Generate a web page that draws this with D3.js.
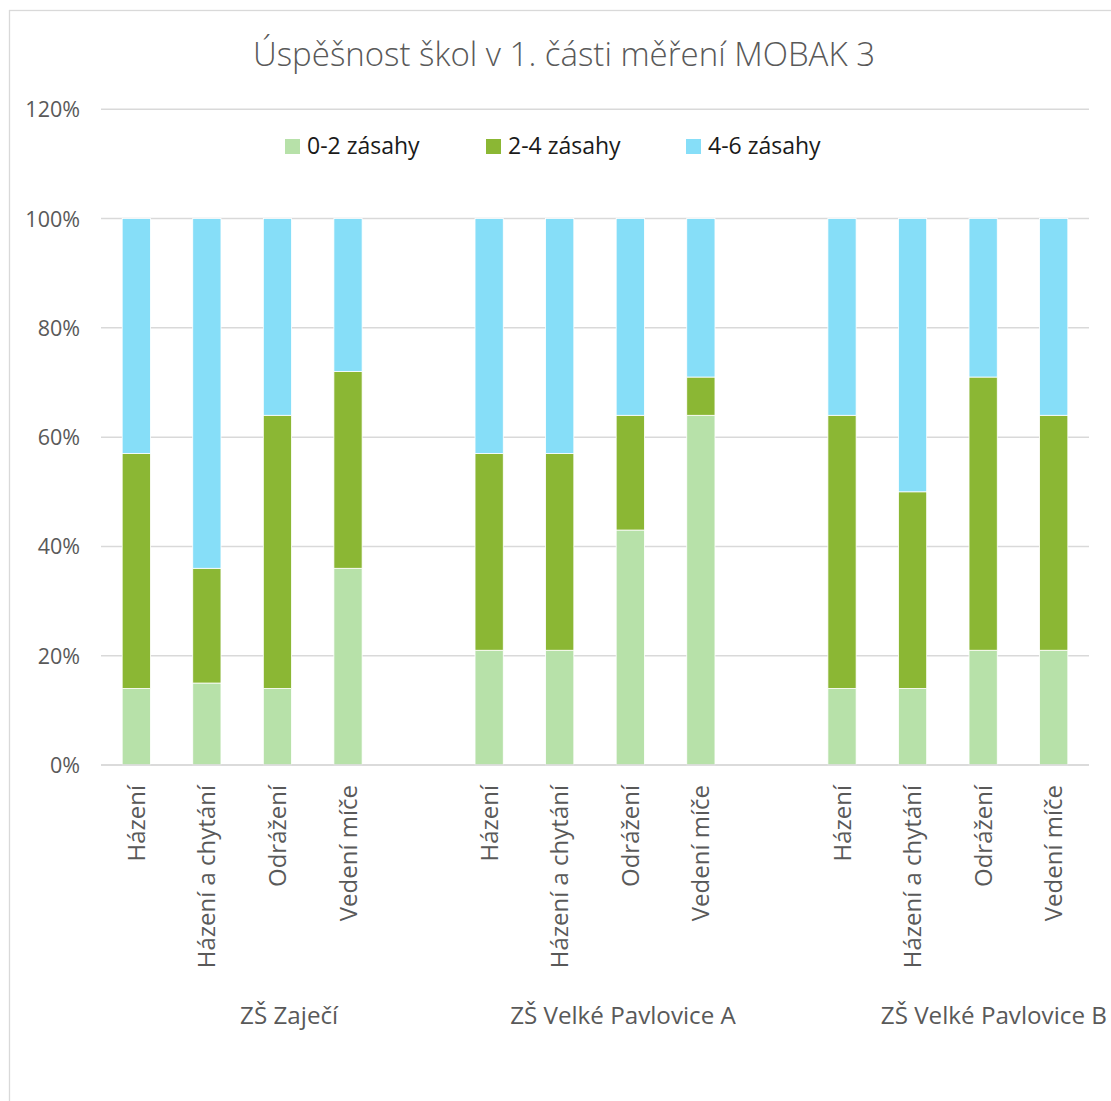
<!DOCTYPE html>
<html>
<head>
<meta charset="utf-8">
<script src="https://cdn.jsdelivr.net/npm/d3@7"></script>
<style>
    body { margin: 0; background: #fff; }
    svg { display: block; font-family: "Open Sans", "Noto Sans", sans-serif; }
</style>
</head>
<body>
<script>
(function(){

    var groups = ["ZŠ Zaječí", "ZŠ Velké Pavlovice A", "ZŠ Velké Pavlovice B"];
    var tasks = ["Házení", "Házení a chytání", "Odrážení", "Vedení míče"];
    var seriesNames = ["0-2 zásahy", "2-4 zásahy", "4-6 zásahy"];
    var seriesColors = ["#B7E1A9", "#8BB734", "#86DEF8"];

    // share of pupils per task, in %, group by group
    var low  = [14, 15, 14, 36,   21, 21, 43, 64,   14, 14, 21, 21];
    var mid  = [43, 21, 50, 36,   36, 36, 21, 7,    50, 36, 50, 43];
    var high = [43, 64, 36, 28,   43, 43, 36, 29,   36, 50, 29, 36];

    var yTicks = [0, 20, 40, 60, 80, 100, 120];

    window.onload = drawChart();

    function drawChart(){
        var width = 1111,
            height = 1101;

        var svg = d3.select("body")
            .append("svg")
            .attr("width", width)
            .attr("height", height);

        // chart frame
        svg.append("rect")
            .attr("x", 9.5)
            .attr("y", 10.5)
            .attr("width", 1125)
            .attr("height", 1120)
            .attr("fill", "#fff")
            .attr("stroke", "#d9d9d9")
            .attr("stroke-width", 1.3);

        svg.append("text")
            .attr("x", 564)
            .attr("y", 66)
            .attr("text-anchor", "middle")
            .attr("font-size", 33)
            .attr("font-weight", 300)
            .attr("fill", "#595959")
            .text("Úspěšnost škol v 1. části měření MOBAK 3");

        // build rows with an empty slot between groups
        var rows = [];
        var slots = [];
        groups.forEach(function(g, gi){
            tasks.forEach(function(t, ti){
                var i = gi * tasks.length + ti;
                var key = "s" + gi + "_" + ti;
                rows.push({key: key, group: g, task: t, values: [low[i], mid[i], high[i]]});
                slots.push(key);
            });
            if (gi < groups.length - 1) slots.push("gap" + gi);
        });

        var plotLeft = 101, plotRight = 1089, plotTop = 109.3, plotBottom = 765;

        var x = d3.scaleBand()
            .domain(slots)
            .range([plotLeft, plotRight])
            .paddingInner(0.6)
            .paddingOuter(0.3);

        var y = d3.scaleLinear()
            .domain([0, 120])
            .range([plotBottom, plotTop]);

        // gridlines
        svg.append("g")
            .selectAll("line")
            .data(yTicks)
            .enter()
            .append("line")
            .attr("x1", plotLeft)
            .attr("x2", plotRight)
            .attr("y1", function(d){ return y(d); })
            .attr("y2", function(d){ return y(d); })
            .attr("stroke", "#d9d9d9")
            .attr("stroke-width", 1.5);

        var yAxis = d3.axisLeft(y)
            .tickValues(yTicks)
            .tickSize(0)
            .tickPadding(0)
            .tickFormat(function(d){ return d + "%"; });

        var yg = svg.append("g")
            .attr("transform", "translate(80,0)")
            .call(yAxis);
        yg.select(".domain").remove();
        yg.selectAll("text")
            .attr("font-size", 21.5)
            .attr("font-family", "Open Sans, sans-serif")
            .attr("fill", "#595959")
            .attr("dy", "0.35em");

        // stacked bars
        var stack = d3.stack()
            .keys([0, 1, 2])
            .value(function(d, k){ return d.values[k]; });
        var stacked = stack(rows);

        svg.append("g")
            .selectAll("g")
            .data(stacked)
            .enter()
            .append("g")
            .attr("fill", function(d, i){ return seriesColors[i]; })
            .selectAll("rect")
            .data(function(d){ return d; })
            .enter()
            .append("rect")
            .attr("x", function(d){ return x(d.data.key); })
            .attr("width", x.bandwidth())
            .attr("y", function(d){ return y(d[1]); })
            .attr("height", function(d){ return y(d[0]) - y(d[1]); })
            .attr("stroke", "#fff")
            .attr("stroke-width", 0.8);

        // baseline over the bars
        svg.append("line")
            .attr("x1", plotLeft)
            .attr("x2", plotRight)
            .attr("y1", y(0))
            .attr("y2", y(0))
            .attr("stroke", "#d9d9d9")
            .attr("stroke-width", 1.5);

        // rotated task labels
        svg.append("g")
            .selectAll("text")
            .data(rows)
            .enter()
            .append("text")
            .attr("transform", function(d){
                var cx = x(d.key) + x.bandwidth() / 2;
                return "translate(" + (cx + 8.5) + ",785) rotate(-90)";
            })
            .attr("text-anchor", "end")
            .attr("font-size", 24)
            .attr("fill", "#595959")
            .text(function(d){ return d.task; });

        // group labels (Excel places them slightly right of the bar centre)
        var labelShift = [47, 28, 46];
        svg.append("g")
            .selectAll("text")
            .data(groups)
            .enter()
            .append("text")
            .attr("x", function(d, gi){
                var first = x("s" + gi + "_0"), last = x("s" + gi + "_3") + x.bandwidth();
                return (first + last) / 2 + labelShift[gi];
            })
            .attr("y", 1024)
            .attr("text-anchor", "middle")
            .attr("font-size", 24.2)
            .attr("fill", "#595959")
            .text(function(d){ return d; });

        // legend
        var legendX = [285, 486, 686];
        var legend = svg.append("g")
            .selectAll("g")
            .data(seriesNames)
            .enter()
            .append("g")
            .attr("transform", function(d, i){ return "translate(" + legendX[i] + ",139)"; });
        legend.append("rect")
            .attr("width", 15)
            .attr("height", 15)
            .attr("fill", function(d, i){ return seriesColors[i]; });
        legend.append("text")
            .attr("x", 22)
            .attr("y", 15)
            .attr("font-size", 23)
            .attr("fill", "#1a1a1a")
            .text(function(d){ return d; });
    }

})();
</script>
</body>
</html>
